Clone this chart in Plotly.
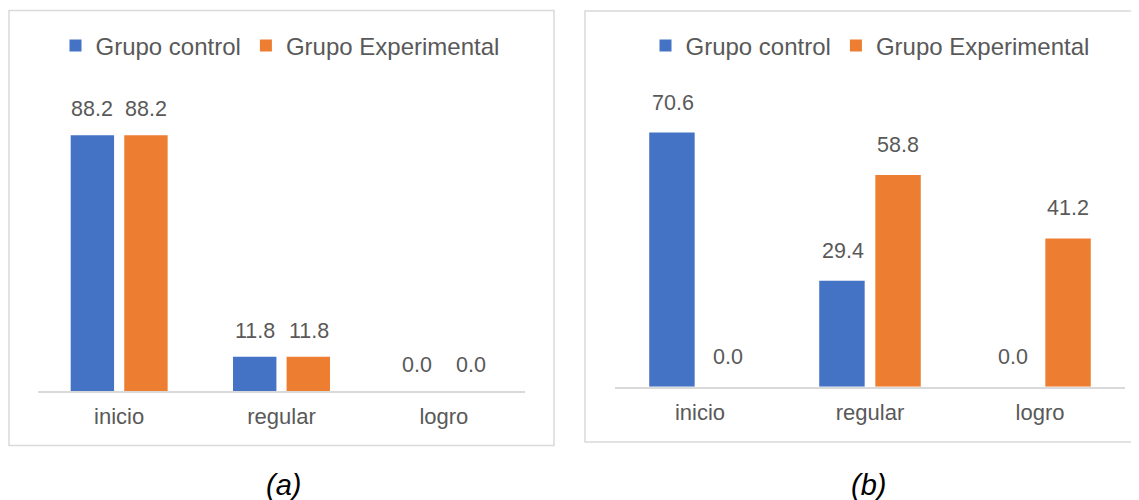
import plotly.graph_objects as go

categories = ["inicio", "regular", "logro"]
series_names = ["Grupo control", "Grupo Experimental"]
control_a = [88.2, 11.8, 0.0]
experimental_a = [88.2, 11.8, 0.0]
control_b = [70.6, 29.4, 0.0]
experimental_b = [0.0, 58.8, 41.2]
panel_labels = ["(a)", "(b)"]

BLUE = "#4472C4"
ORANGE = "#ED7D31"
TXT = "#595959"
GRID = "#D9D9D9"
FONT = "Liberation Sans, Arial, sans-serif"
OFF = 8  # page body margin
W, H = 1139 - OFF, 500 - OFF

def px(x):
    return (x - OFF) / W

def py(y):
    return 1 - (y - OFF) / H

fig = go.Figure()

panels = [
    dict(xa="x", ya="y", data=[control_a, experimental_a], legend="legend", shift=27, lift=12),
    dict(xa="x2", ya="y2", data=[control_b, experimental_b], legend="legend2", shift=27.5, lift=16),
]

for p in panels:
    for i, (name, vals, col) in enumerate(zip(series_names, p["data"], [BLUE, ORANGE])):
        fig.add_trace(go.Bar(
            x=categories, y=vals, name=name, marker=dict(color=col, line=dict(width=0)),
            xaxis=p["xa"], yaxis=p["ya"], legend=p["legend"], hoverinfo="skip",
        ))
        for c, v in zip(categories, vals):
            fig.add_annotation(
                x=c, y=v, xref=p["xa"], yref=p["ya"], text=f"{v:.1f}", showarrow=False,
                xshift=(-1 if i == 0 else 1) * p["shift"], yshift=p["lift"], yanchor="bottom",
                font=dict(family=FONT, size=21.5, color=TXT),
            )

axis_common = dict(showgrid=False, zeroline=False, showline=True, linecolor=GRID, linewidth=1.5,
                   ticks="", tickfont=dict(family=FONT, size=22, color=TXT), ticklabelstandoff=5,
                   fixedrange=True)
yaxis_common = dict(visible=False, showgrid=False, zeroline=False, fixedrange=True)

fig.update_layout(
    width=W, height=H, margin=dict(l=0, r=0, t=0, b=0),
    paper_bgcolor="white", plot_bgcolor="white",
    barmode="group", bargap=0.34, bargroupgap=0.19,
    xaxis=dict(domain=[px(38), px(525)], anchor="y", **axis_common),
    xaxis2=dict(domain=[px(615), px(1125)], anchor="y2", **axis_common),
    yaxis=dict(domain=[py(391), py(101)], range=[0, 100], anchor="x", **yaxis_common),
    yaxis2=dict(domain=[py(386.7), py(98.7)], range=[0, 80], anchor="x2", **yaxis_common),
    legend=dict(orientation="h", x=px(280), xanchor="center", y=py(46), yanchor="middle",
                font=dict(family=FONT, size=24, color=TXT), bgcolor="rgba(0,0,0,0)"),
    legend2=dict(orientation="h", x=px(870), xanchor="center", y=py(46), yanchor="middle",
                 font=dict(family=FONT, size=24, color=TXT), bgcolor="rgba(0,0,0,0)"),
    showlegend=True,
    shapes=[
        dict(type="rect", xref="paper", yref="paper", x0=px(9), x1=px(554), y0=py(445.5), y1=py(10.5),
             line=dict(color=GRID, width=1.5), layer="below"),
        dict(type="rect", xref="paper", yref="paper", x0=px(585), x1=px(1150), y0=py(442), y1=py(11),
             line=dict(color=GRID, width=1.5), layer="below"),
    ],
)

for lbl, cx in zip(panel_labels, [283, 868]):
    fig.add_annotation(x=px(cx), y=py(485), xref="paper", yref="paper", text=f"<i>{lbl}</i>",
                       showarrow=False, font=dict(family=FONT, size=29, color="black"),
                       xanchor="center", yanchor="middle")

fig.write_html("out.html", config={"displayModeBar": False})
